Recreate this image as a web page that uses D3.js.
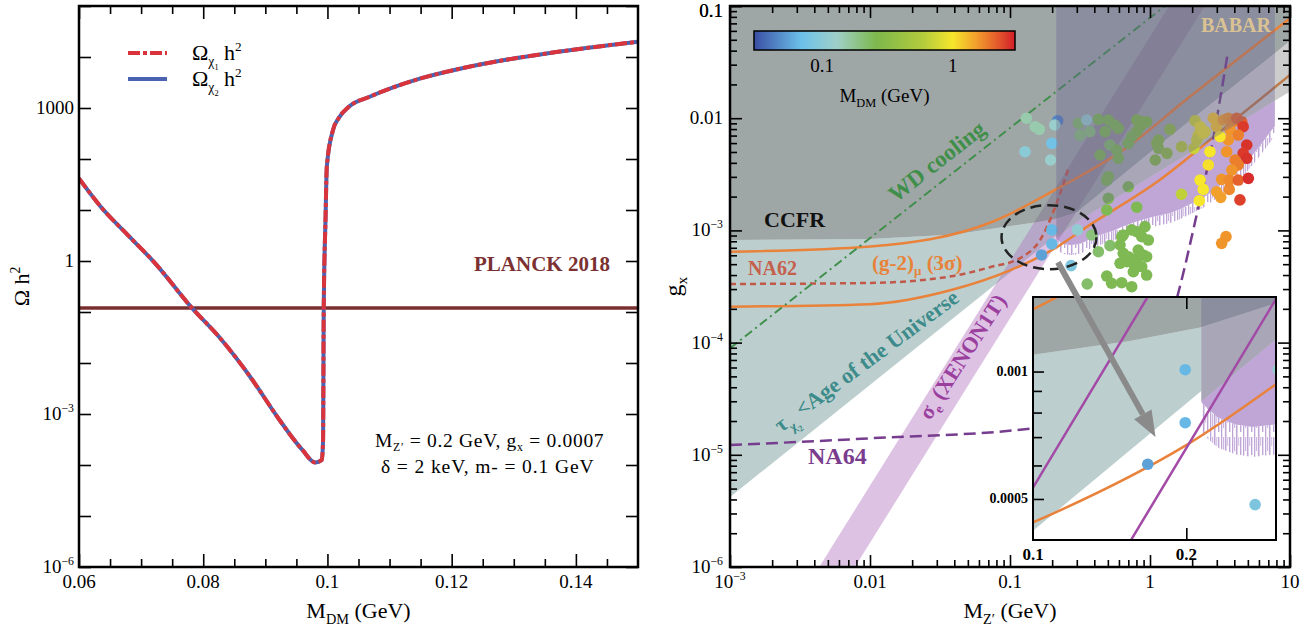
<!DOCTYPE html>
<html>
<head>
<meta charset="utf-8">
<script src="https://cdn.jsdelivr.net/npm/d3@7/dist/d3.min.js"></script>
<style>
  body { margin: 0; background: #fff; }
  svg { font-family: 'Liberation Serif', 'Times New Roman', serif; }
</style>
</head>
<body>
<svg id="chart" width="1312" height="627"></svg>
<script>
// ---------- left panel: relic density vs M_DM ----------
const mdmGrid = [0.0600, 0.0635, 0.0676, 0.0723, 0.0781, 0.0825, 0.0879, 0.0919, 0.0960, 0.0980, 0.0991, 0.0993,
  0.0994, 0.0997, 0.0999, 0.1009, 0.1018, 0.1035, 0.1068, 0.1150, 0.1217, 0.1285, 0.1353, 0.1420, 0.1500];
const omegaH2 = [41.7, 11.6, 3.47, 0.89, 0.123, 0.033, 0.0047, 8.9e-4, 1.95e-4, 1.12e-4, 1.26e-4, 3.2e-4,
  0.11, 7.4, 71, 372, 631, 1072, 1660, 3800, 6030, 8710, 11750, 15140, 19950];
const planck = 0.12;
const xTicksL = [0.06, 0.08, 0.1, 0.12, 0.14];
const yLabelsL = [1e-6, 1e-3, 1, 1000];

// ---------- right panel: g_x vs M_Z' ----------
const ccfrM = [0.001, 0.01, 0.04, 0.1, 0.155, 0.213, 0.3, 1.05, 7.8, 10];
const ccfrG = [8.2e-4, 8.4e-4, 9.2e-4, 1.095e-3, 1.18e-3, 1.27e-3, 1.45e-3, 5.2e-3, 3.8e-2, 4.9e-2];
const ageM = [0.001, 0.214];
const ageG = [4.2e-6, 9.0e-4];
const babarM = [0.214, 0.3, 8, 10];
const babarG = [8.5e-4, 1.19e-3, 1.46e-2, 1.73e-2];
const shadeM = [0.214, 7.8];
const lilacM = [0.215, 0.23, 0.25, 0.27, 0.3, 0.34, 0.38, 0.46, 0.55, 0.66, 0.8, 0.96, 1.15, 1.38, 1.65, 2.0,
  2.4, 2.9, 3.5, 4.2, 5.0, 6.0, 7.2, 7.8];
const lilacG = [8.4e-4, 7.8e-4, 7.5e-4, 7.4e-4, 7.5e-4, 7.9e-4, 8.5e-4, 9.3e-4, 1.0e-3, 1.1e-3, 1.2e-3, 1.28e-3,
  1.36e-3, 1.42e-3, 1.55e-3, 1.75e-3, 1.95e-3, 2.3e-3, 2.8e-3, 3.3e-3, 4.2e-3, 5.5e-3, 7.5e-3, 8.5e-3];
const gm2UpM = [0.001, 0.01, 0.0757, 0.21, 0.644, 1.93, 10];
const gm2UpG = [6.45e-4, 7.2e-4, 1.2e-3, 2.3e-3, 5.2e-3, 1.56e-2, 7.77e-2];
const gm2LoM = [0.001, 0.01, 0.038, 0.1, 0.2, 0.372, 1.12, 3.34, 10];
const gm2LoG = [2.09e-4, 2.2e-4, 2.94e-4, 4.4e-4, 6.7e-4, 1.12e-3, 2.7e-3, 8e-3, 2.43e-2];
const na62M = [0.001, 0.01, 0.038, 0.072, 0.122, 0.164, 0.215, 0.262];
const na62G = [3.33e-4, 3.4e-4, 3.9e-4, 4.7e-4, 5.8e-4, 8.2e-4, 1.74e-3, 3.6e-3];
const na64M = [0.001, 0.0097, 0.144, 0.6, 1.1, 1.59, 2.25, 2.75, 3.16, 3.56];
const na64G = [1.22e-5, 1.4e-5, 1.72e-5, 2.6e-5, 6e-5, 2.75e-4, 1.75e-3, 5.4e-3, 1.45e-2, 3.54e-2];
const wdM = [0.001, 1.28];
const wdG = [8.9e-5, 0.1];
const xenonLoM = [4.34e-3, 1.37];
const xenonHiM = [7.8e-3, 2.46];
const xenonG = [1e-6, 0.1];

const dotZp = [0.128, 0.131, 0.151, 0.162, 0.199, 0.195, 0.219, 0.209,
  0.308, 0.353, 0.316, 0.372, 0.428, 0.478, 0.504, 0.562, 0.594, 0.518, 0.804, 0.849, 0.92, 0.804, 1.39, 1.15,
  2.10, 2.28, 2.47, 2.21, 2.83, 2.99, 3.34, 3.62, 3.94, 4.16, 4.52, 4.63, 3.73, 4.27, 4.91, 3.62, 3.16,
  0.44, 0.578, 0.594, 0.70, 0.74, 0.873, 0.946, 1.09, 1.12, 1.15, 1.32, 1.68, 2.06, 2.16, 2.40, 2.68, 3.53, 4.63,
  4.91, 4.05, 4.27, 3.84, 2.61, 2.28, 2.40, 2.25, 1.68, 2.99, 3.20, 3.25, 3.68, 3.68, 4.27, 5.04, 4.39, 3.49, 3.25,
  0.504, 0.491, 0.70, 0.504, 0.491, 0.804,
  0.303, 0.384, 0.199, 0.199, 0.168, 0.273,
  0.428, 0.518, 0.628, 0.644, 0.74, 0.804, 0.92, 0.873, 0.973, 0.611, 0.824, 0.644, 0.70, 0.804, 0.895, 0.946,
  0.611, 0.682, 0.76, 0.873, 0.76, 0.946, 0.491, 0.532, 0.628, 0.74, 0.356];
const dotGx = [5.03e-3, 1.0e-2, 8.4e-3, 7.96e-3, 5.97e-3, 4.24e-3, 9.5e-3, 8.7e-3,
  9.02e-3, 9.64e-3, 7.08e-3, 7.59e-3, 9.77e-3, 7.59e-3, 9.64e-3, 8.7e-3, 8.13e-3, 5.77e-3, 9.64e-3, 8.4e-3, 9.12e-3,
  7.59e-3, 7.96e-3, 6.39e-3,
  9.5e-3, 8.4e-3, 7.59e-3, 7.08e-3, 1.0e-2, 8.4e-3, 9.64e-3, 1.0e-2, 9.31e-3, 1.0e-2, 9.31e-3, 8.4e-3, 7.85e-3,
  7.08e-3, 5.77e-3, 6.39e-3, 6.84e-3,
  4.70e-3, 5.21e-3, 4.39e-3, 5.97e-3, 6.84e-3, 9.31e-3, 9.31e-3, 4.24e-3, 5.97e-3, 5.39e-3, 4.86e-3, 5.57e-3,
  5.39e-3, 6.39e-3, 7.33e-3, 5.03e-3, 5.03e-3, 4.86e-3,
  4.39e-3, 4.24e-3, 3.83e-3, 3.45e-3, 3.83e-3, 2.81e-3, 2.32e-3, 1.84e-3, 2.10e-3, 2.21e-3, 1.97e-3, 2.85e-3,
  2.81e-3, 2.32e-3, 2.81e-3, 2.91e-3, 1.87e-3, 8.8e-4, 7.67e-4,
  3.01e-3, 2.81e-3, 2.45e-3, 1.93e-3, 1.52e-3, 1.61e-3,
  1.01e-3, 9.1e-4, 1.01e-3, 7.57e-4, 6.04e-4, 4.85e-4,
  6.46e-4, 7.31e-4, 8.8e-4, 9.1e-4, 1.01e-3, 9.73e-4, 1.08e-3, 8.8e-4, 8.2e-4, 7.41e-4, 6.69e-4, 6.25e-4, 5.83e-4,
  5.64e-4, 6.04e-4, 5.83e-4,
  5.09e-4, 5.26e-4, 5.09e-4, 4.75e-4, 4.28e-4, 4.0e-4, 3.92e-4, 3.38e-4, 3.42e-4, 3.15e-4, 3.33e-4];
const dotMdm = [0.1, 0.15, 0.15, 0.15, 0.075, 0.12, 0.045, 0.12,
  0.22, 0.12, 0.2, 0.2, 0.25, 0.25, 0.25, 0.25, 0.25, 0.22, 0.28, 0.28, 0.3, 0.28, 0.35, 0.3,
  0.7, 0.9, 0.9, 0.85, 1.2, 1.2, 1.5, 1.6, 1.7, 2.0, 2.1, 2.6, 1.6, 1.8, 2.7, 1.6, 1.0,
  0.25, 0.25, 0.25, 0.25, 0.25, 0.28, 0.28, 0.3, 0.3, 0.3, 0.35, 0.6, 0.7, 0.75, 0.9, 1.0, 1.6, 2.6,
  2.7, 1.8, 1.8, 1.6, 1.05, 1.0, 1.0, 1.0, 0.65, 1.5, 1.5, 1.6, 1.7, 1.7, 2.1, 2.8, 2.5, 1.6, 1.6,
  0.25, 0.25, 0.25, 0.25, 0.25, 0.25,
  0.11, 0.2, 0.065, 0.065, 0.055, 0.085,
  0.22, 0.22, 0.25, 0.25, 0.25, 0.25, 0.25, 0.25, 0.25, 0.25, 0.25, 0.25, 0.25, 0.25, 0.25, 0.25,
  0.25, 0.25, 0.25, 0.25, 0.25, 0.25, 0.25, 0.25, 0.25, 0.25, 0.22];

const cbarStops = [0.03, 0.069, 0.13, 0.26, 0.6, 1.0, 1.6, 2.3, 3];
const cbarColors = ['#3a4ea3', '#6cc0ea', '#9fd0c8', '#7db84c', '#b5cc3c', '#f6e62c', '#f0952c', '#e2512c', '#d21f2a'];
const cbarTicks = [0.1, 1];

// ---------- helpers ----------
const svg = d3.select('#chart');
const defs = svg.append('defs');
const zip = (a, b) => a.map((v, i) => [v, b[i]]);
const SUB = 0.25, SUP = -0.42;

function rich(g, x, y, parts, size) {
  const t = g.append('text').attr('x', x).attr('y', y).style('font-size', size + 'px');
  let prev = 0;
  parts.forEach(p => {
    const [s, off = 0, fs = 1] = typeof p === 'string' ? [p] : p;
    t.append('tspan').attr('dy', (off - prev) * size).style('font-size', fs * size + 'px').text(s);
    prev = off;
  });
  return t;
}

function gAt(ms, gs, m) {
  let i = 0;
  while (i < ms.length - 2 && ms[i + 1] < m) i++;
  const t = (Math.log10(m) - Math.log10(ms[i])) / (Math.log10(ms[i + 1]) - Math.log10(ms[i]));
  return 10 ** (Math.log10(gs[i]) + t * (Math.log10(gs[i + 1]) - Math.log10(gs[i])));
}

function ticks(g, axisFn, scale, pos, values, size, w = 1.6) {
  g.append('g').attr('transform', pos)
    .call(axisFn(scale).tickValues(values).tickSize(size).tickSizeOuter(0).tickFormat(''))
    .call(a => a.select('.domain').remove())
    .selectAll('line').attr('stroke', '#000').attr('stroke-width', w);
}

function powParts(v) {
  if (v >= 0.01) return [d3.format('~g')(v)];
  return ['10', ['\u2212' + (-Math.round(Math.log10(v))), SUP, 0.62]];
}

// hairy fringe under the lilac region
const hair = defs.append('pattern').attr('id', 'hair').attr('patternUnits', 'userSpaceOnUse')
  .attr('width', 11).attr('height', 23);
[[0, 1.3, 23], [2.2, 0.9, 14], [3.9, 1.6, 23], [6.4, 0.8, 9], [8.0, 1.4, 18]].forEach(([x, w, h]) =>
  hair.append('rect').attr('x', x).attr('y', 0).attr('width', w).attr('height', h).attr('fill', '#bfa6d7'));

// ================= LEFT PANEL =================
const PL = { x0: 79, x1: 638, y0: 6, y1: 567 };
const xL = d3.scaleLinear().domain([0.06, 0.15]).range([PL.x0, PL.x1]);
const yL = d3.scaleLog().domain([1e-6, 1e5]).range([PL.y1, PL.y0]);
const gL = svg.append('g');

defs.append('clipPath').attr('id', 'clipL').append('rect')
  .attr('x', PL.x0).attr('y', PL.y0).attr('width', PL.x1 - PL.x0).attr('height', PL.y1 - PL.y0);

const plotL = gL.append('g').attr('clip-path', 'url(#clipL)');
plotL.append('line')
  .attr('x1', PL.x0).attr('x2', PL.x1).attr('y1', yL(planck)).attr('y2', yL(planck))
  .attr('stroke', '#7a2f2f').attr('stroke-width', 3.5);

const omegaLine = d3.line().x(d => xL(d[0])).y(d => yL(d[1])).curve(d3.curveMonotoneX);
const omegaPts = zip(mdmGrid, omegaH2);
plotL.append('path').attr('d', omegaLine(omegaPts))
  .attr('fill', 'none').attr('stroke', '#4a62b2').attr('stroke-width', 4);
plotL.append('path').attr('d', omegaLine(omegaPts))
  .attr('fill', 'none').attr('stroke', '#d9343c').attr('stroke-width', 4).attr('stroke-dasharray', '12,3,4,3');

const xMinorL = d3.range(13, 30).map(k => k * 0.005).filter(v => !xTicksL.some(t => Math.abs(t - v) < 1e-9));
const decL = d3.range(-6, 6).map(e => 10 ** e);
ticks(gL, d3.axisBottom, xL, `translate(0,${PL.y1})`, xTicksL, -13);
ticks(gL, d3.axisBottom, xL, `translate(0,${PL.y1})`, xMinorL, -8);
ticks(gL, d3.axisTop, xL, `translate(0,${PL.y0})`, xTicksL, -13);
ticks(gL, d3.axisTop, xL, `translate(0,${PL.y0})`, xMinorL, -8);
ticks(gL, d3.axisLeft, yL, `translate(${PL.x0},0)`, decL, -12);
ticks(gL, d3.axisRight, yL, `translate(${PL.x1},0)`, decL, -12);
gL.append('rect').attr('x', PL.x0).attr('y', PL.y0).attr('width', PL.x1 - PL.x0).attr('height', PL.y1 - PL.y0)
  .attr('fill', 'none').attr('stroke', '#000').attr('stroke-width', 2.5);

xTicksL.forEach(v => rich(gL, xL(v), 588, [d3.format('~g')(v)], 19).attr('text-anchor', 'middle'));
yLabelsL.forEach(v => rich(gL, 74, yL(v) + 6, powParts(v), 19).attr('text-anchor', 'end'));

rich(gL, 0, 0, ['M', ['DM', SUB, 0.65], ' (GeV)'], 22).attr('text-anchor', 'middle')
  .attr('transform', `translate(${(PL.x0 + PL.x1) / 2},618)`);
rich(gL, 0, 0, ['\u03A9 h', ['2', SUP, 0.62]], 22).attr('text-anchor', 'middle')
  .attr('transform', `translate(29,${(PL.y0 + PL.y1) / 2}) rotate(-90)`);

// legend
gL.append('line').attr('x1', 128).attr('x2', 167).attr('y1', 53).attr('y2', 53)
  .attr('stroke', '#d9343c').attr('stroke-width', 4).attr('stroke-dasharray', '12,3,4,3');
gL.append('line').attr('x1', 128).attr('x2', 167).attr('y1', 79).attr('y2', 79)
  .attr('stroke', '#4a62b2').attr('stroke-width', 4);
rich(gL, 192, 60, ['\u03A9', ['\u03C7', SUB, 0.62], ['1', 0.45, 0.38], ' h', ['2', SUP, 0.6]], 22);
rich(gL, 192, 86, ['\u03A9', ['\u03C7', SUB, 0.62], ['2', 0.45, 0.38], ' h', ['2', SUP, 0.6]], 22);

rich(gL, 474, 271, ['PLANCK 2018'], 21).attr('font-weight', 'bold').attr('fill', '#7b3131');
rich(gL, 375, 447, ['M', ['Z\u2032', 0.2, 0.6], ' = 0.2 GeV, g', ['x', 0.2, 0.6], ' = 0.0007'], 19.5)
  .style('letter-spacing', '0.7px');
rich(gL, 381, 473, ['\u03B4 = 2 keV, m- = 0.1 GeV'], 19.5).style('letter-spacing', '0.9px');

// ================= RIGHT PANEL =================
const PR = { x0: 730, x1: 1290, y0: 6, y1: 567 };
const xR = d3.scaleLog().domain([1e-3, 10]).range([PR.x0, PR.x1]);
const yR = d3.scaleLog().domain([1e-6, 0.1]).range([PR.y1, PR.y0]);
const mdmColor = d3.scaleLog().domain(cbarStops).range(cbarColors).clamp(true);
const gTop = yR.domain()[1], mLeft = xR.domain()[0], mRight = xR.domain()[1];

defs.append('clipPath').attr('id', 'clipR').append('rect')
  .attr('x', PR.x0).attr('y', PR.y0).attr('width', PR.x1 - PR.x0).attr('height', PR.y1 - PR.y0);

function paint(g, x, y, inset) {
  const poly = p => d3.line().x(d => x(d[0])).y(d => y(d[1]))(p) + 'Z';
  const smooth = d3.line().x(d => x(d[0])).y(d => y(d[1])).curve(d3.curveMonotoneX);
  const straight = d3.line().x(d => x(d[0])).y(d => y(d[1]));
  const [mS, mE] = shadeM;
  const ccfr = zip(ccfrM, ccfrG), babar = zip(babarM, babarG);
  const cS = [mS, gAt(ccfrM, ccfrG, mS)];
  const bE = [mE, gAt(babarM, babarG, mE)];
  const lilac = zip(lilacM, lilacG);

  // tau < age of the universe
  g.append('path').attr('fill', '#bccfce')
    .attr('d', poly([...zip(ageM, ageG), cS, ...ccfr.filter(d => d[0] < mS).reverse()]));
  // lilac region with hairy lower edge
  const fringe = inset ? 30 : 10;
  const edge = lilac.map(d => [x(d[0]), y(d[1])]);
  g.append('path').attr('fill', 'url(#hair)')
    .attr('d', d3.line()([...edge, ...edge.slice().reverse().map(p => [p[0], p[1] + fringe])]) + 'Z');
  g.append('path').attr('fill', '#bfa6d7')
    .attr('d', poly([...babar.filter(d => d[0] < mE), bE, ...lilac.slice().reverse()]));
  if (!inset) {
    g.append('path').attr('fill', 'rgba(175,110,190,0.42)')
      .attr('d', poly([...zip(xenonLoM, xenonG), ...zip(xenonHiM, xenonG).reverse()]));
  }
  // CCFR
  g.append('path').attr('fill', 'rgba(100,112,112,0.62)')
    .attr('d', poly([...ccfr, [mRight, gTop], [mLeft, gTop]]));
  // (g-2)_mu band edges
  [zip(gm2UpM, gm2UpG), zip(gm2LoM, gm2LoG)].forEach(p =>
    g.append('path').attr('d', smooth(p)).attr('fill', 'none').attr('stroke', '#e9823a').attr('stroke-width', 2.5));
  if (!inset) {
    g.append('path').attr('d', smooth(zip(na62M, na62G))).attr('fill', 'none')
      .attr('stroke', '#c2584a').attr('stroke-width', 2.5).attr('stroke-dasharray', '6,4');
    g.append('path').attr('d', smooth(zip(na64M, na64G))).attr('fill', 'none')
      .attr('stroke', '#763d8e').attr('stroke-width', 2.5).attr('stroke-dasharray', '12,6');
    g.append('path').attr('d', straight(zip(wdM, wdG))).attr('fill', 'none')
      .attr('stroke', '#3f8f4a').attr('stroke-width', 2).attr('stroke-dasharray', '9,4,2,4');
  }
  // band between BaBar edge and CCFR
  g.append('path').attr('fill', 'rgba(110,110,110,0.35)')
    .attr('d', poly([...babar, ...ccfr.filter(d => d[0] > mS).reverse(), cS]));
  // scan points
  g.append('g').selectAll('circle').data(dotZp.map((m, i) => [m, dotGx[i], dotMdm[i]])).join('circle')
    .attr('cx', d => x(d[0])).attr('cy', d => y(d[1])).attr('r', 5.8)
    .attr('fill', d => mdmColor(d[2]));
  // shaded M_Z' window
  g.append('path').attr('fill', 'rgba(103,97,142,0.35)')
    .attr('d', poly([...babar.filter(d => d[0] < mE), bE, [mE, gTop], [mS, gTop]]));
  if (inset) {
    [xenonLoM, xenonHiM].forEach(ms =>
      g.append('path').attr('d', straight(zip(ms, xenonG))).attr('fill', 'none')
        .attr('stroke', '#a24aa6').attr('stroke-width', 2.5));
  }
}

const gR = svg.append('g');
const plotR = gR.append('g').attr('clip-path', 'url(#clipR)');
paint(plotR, xR, yR, false);

// ellipse around the benchmark
plotR.append('ellipse').attr('cx', xR(0.19)).attr('cy', yR(8.7e-4)).attr('rx', 47.5).attr('ry', 32)
  .attr('fill', 'none').attr('stroke', '#222').attr('stroke-width', 2.5).attr('stroke-dasharray', '11,6');

// axes
const decX = d3.range(-3, 2).map(e => 10 ** e);
const decY = d3.range(-6, 0).map(e => 10 ** e);
const minorX = d3.range(-3, 1).flatMap(e => d3.range(2, 10).map(k => k * 10 ** e));
const minorY = d3.range(-6, -1).flatMap(e => d3.range(2, 10).map(k => k * 10 ** e));
ticks(gR, d3.axisBottom, xR, `translate(0,${PR.y1})`, decX, -12);
ticks(gR, d3.axisBottom, xR, `translate(0,${PR.y1})`, minorX, -7);
ticks(gR, d3.axisTop, xR, `translate(0,${PR.y0})`, decX, -12);
ticks(gR, d3.axisTop, xR, `translate(0,${PR.y0})`, minorX, -7);
ticks(gR, d3.axisLeft, yR, `translate(${PR.x0},0)`, decY.concat([0.1]), -12);
ticks(gR, d3.axisLeft, yR, `translate(${PR.x0},0)`, minorY, -7);
ticks(gR, d3.axisRight, yR, `translate(${PR.x1},0)`, decY.concat([0.1]), -12);
ticks(gR, d3.axisRight, yR, `translate(${PR.x1},0)`, minorY, -7);
gR.append('rect').attr('x', PR.x0).attr('y', PR.y0).attr('width', PR.x1 - PR.x0).attr('height', PR.y1 - PR.y0)
  .attr('fill', 'none').attr('stroke', '#000').attr('stroke-width', 2.5);

decX.forEach(v => rich(gR, xR(v), 588, powParts(v), 19).attr('text-anchor', 'middle'));
decY.concat([0.1]).forEach(v => rich(gR, 723, Math.max(yR(v) + 6, 17), powParts(v), 19).attr('text-anchor', 'end'));
rich(gR, 0, 0, ['M', ['Z\u2032', SUB, 0.65], ' (GeV)'], 22).attr('text-anchor', 'middle')
  .attr('transform', `translate(${(PR.x0 + PR.x1) / 2},618)`);
rich(gR, 0, 0, ['g', ['x', SUB, 0.65]], 24).attr('text-anchor', 'middle')
  .attr('transform', `translate(681,${(PR.y0 + PR.y1) / 2}) rotate(-90)`);

// region labels
rich(gR, 764, 227, ['CCFR'], 22).attr('font-weight', 'bold').attr('fill', '#111');
rich(gR, 1201, 32, ['BABAR'], 20).attr('font-weight', 'bold').attr('fill', '#dac293');
rich(gR, 748, 275, ['NA62'], 20).attr('font-weight', 'bold').attr('fill', '#c4604c');
rich(gR, 872, 270, ['(g-2)', ['\u03BC', SUB, 0.62], ' (3\u03C3)'], 21).attr('font-weight', 'bold').attr('fill', '#e8823a');
rich(gR, 808, 464, ['NA64'], 24).attr('font-weight', 'bold').attr('fill', '#7a3d8e');
rich(gR, 0, 0, ['WD cooling'], 23).attr('font-weight', 'bold').attr('fill', '#3f8f4a')
  .attr('transform', 'translate(896,203) rotate(-38)');
rich(gR, 0, 0, ['\u03C4', ['\u03C7', SUB + 0.05, 0.62], ['2', 0.5, 0.4], ' <Age of the Universe'], 22)
  .attr('font-weight', 'bold').attr('fill', '#3d8b8b')
  .attr('transform', 'translate(781,433) rotate(-36.4)');
rich(gR, 0, 0, ['\u03C3', ['e', SUB, 0.6], ' (XENON1T)'], 22)
  .attr('font-weight', 'bold').attr('fill', '#9b3f9f')
  .attr('transform', 'translate(930,421) rotate(-57.4)');

// colour bar
const cbX = d3.scaleLog().domain([cbarStops[0], cbarStops[cbarStops.length - 1]]).range([754, 1015]);
const grad = defs.append('linearGradient').attr('id', 'cbGrad');
cbarStops.forEach((v, i) => grad.append('stop')
  .attr('offset', ((cbX(v) - 754) / 261 * 100) + '%').attr('stop-color', cbarColors[i]));
gR.append('rect').attr('x', 754).attr('y', 31).attr('width', 261).attr('height', 19)
  .attr('fill', 'url(#cbGrad)').attr('stroke', '#000').attr('stroke-width', 1.5);
cbarTicks.forEach(v => rich(gR, cbX(v), 72, [d3.format('~g')(v)], 19).attr('text-anchor', 'middle'));
rich(gR, 884.5, 102, ['M', ['DM', SUB, 0.65], ' (GeV)'], 19).attr('text-anchor', 'middle');

// ================= INSET =================
const PI = { x0: 1033, x1: 1276, y0: 297, y1: 540 };
const xI = d3.scaleLog().domain([0.1, 0.3]).range([PI.x0, PI.x1]);
const yI = d3.scaleLog().domain([4e-4, 1.5e-3]).range([PI.y1, PI.y0]);
defs.append('clipPath').attr('id', 'clipI').append('rect')
  .attr('x', PI.x0).attr('y', PI.y0).attr('width', PI.x1 - PI.x0).attr('height', PI.y1 - PI.y0);
const gI = svg.append('g');
gI.append('rect').attr('x', PI.x0).attr('y', PI.y0).attr('width', PI.x1 - PI.x0).attr('height', PI.y1 - PI.y0)
  .attr('fill', '#fff');
paint(gI.append('g').attr('clip-path', 'url(#clipI)'), xI, yI, true);
ticks(gI, d3.axisBottom, xI, `translate(0,${PI.y1})`, [0.2], -12);
ticks(gI, d3.axisTop, xI, `translate(0,${PI.y0})`, [0.2], -12);
ticks(gI, d3.axisLeft, yI, `translate(${PI.x0},0)`, [5e-4, 1e-3], -11);
ticks(gI, d3.axisLeft, yI, `translate(${PI.x0},0)`, [6e-4, 7e-4, 8e-4, 9e-4], -9);
gI.append('rect').attr('x', PI.x0).attr('y', PI.y0).attr('width', PI.x1 - PI.x0).attr('height', PI.y1 - PI.y0)
  .attr('fill', 'none').attr('stroke', '#000').attr('stroke-width', 2);
[1e-3, 5e-4].forEach(v => rich(gI, 1028, yI(v) + 4.5, [d3.format('~g')(v)], 14)
  .attr('text-anchor', 'end').attr('font-weight', 'bold'));
[0.1, 0.2].forEach(v => rich(gI, xI(v), 560, [d3.format('~g')(v)], 17)
  .attr('text-anchor', 'middle').attr('font-weight', 'bold'));

// arrow from the circled region into the inset
const a0 = [xR(0.22), yR(5.2e-4)], a1 = [xI(0.174), yI(7.0e-4)];
const len = Math.hypot(a1[0] - a0[0], a1[1] - a0[1]);
const u = [(a1[0] - a0[0]) / len, (a1[1] - a0[1]) / len], nrm = [-u[1], u[0]];
const base = [a1[0] - 26 * u[0], a1[1] - 26 * u[1]];
svg.append('line').attr('x1', a0[0]).attr('y1', a0[1]).attr('x2', base[0]).attr('y2', base[1])
  .attr('stroke', '#8a8a8a').attr('stroke-width', 6);
svg.append('path').attr('fill', '#8a8a8a')
  .attr('d', d3.line()([a1, [base[0] + 10 * nrm[0], base[1] + 10 * nrm[1]], [base[0] - 10 * nrm[0], base[1] - 10 * nrm[1]]]) + 'Z');
</script>
</body>
</html>
